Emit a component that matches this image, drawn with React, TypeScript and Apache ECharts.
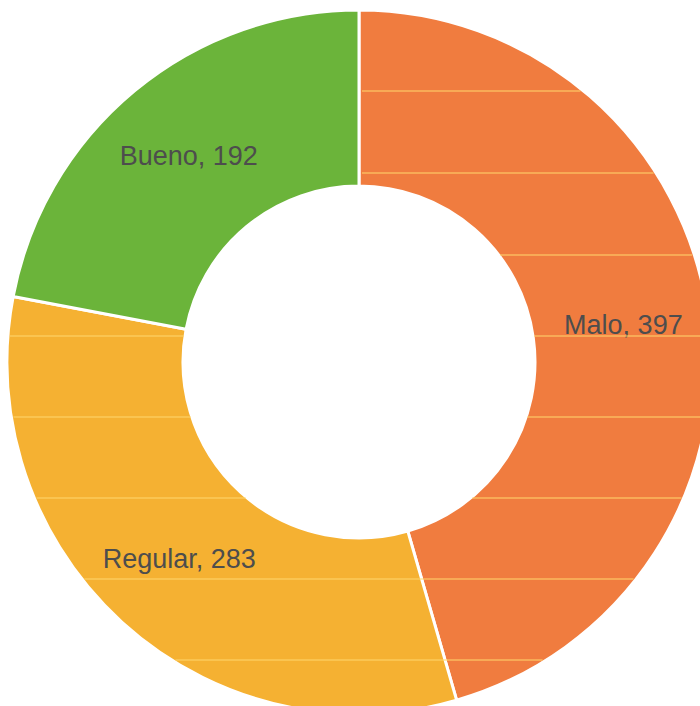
import React, { useEffect, useRef } from "react";
import * as echarts from "echarts";

const categories = ["Malo", "Regular", "Bueno"];
const values = [397, 283, 192];
const colors = ["#F07C3F", "#F5B132", "#6BB43A"];
const scanLinesY = [91, 173, 255, 336, 417, 498, 579, 660];

const CX = 359;
const CY = 362;
const R_IN = 176;
const R_OUT = 352;

export default function App() {
  const ref = useRef<HTMLDivElement>(null);
  useEffect(() => {
    if (!ref.current) return;
    const chart = echarts.init(ref.current, null, { renderer: "svg" });

    const total = values.reduce((a, b) => a + b, 0);
    const greenStart = ((values[0] + values[1]) / total) * 2 * Math.PI;

    const graphics: any[] = [];
    function mk(y: number, x1: number, x2: number) {
      return {
        type: "line",
        z: 100,
        silent: true,
        shape: { x1, y1: y, x2, y2: y },
        style: { stroke: "rgba(255,215,110,0.5)", lineWidth: 2 },
      };
    }
    const rOut = R_OUT - 2;
    const rIn = R_IN + 1;
    scanLinesY.forEach((y) => {
      const dy = y - CY;
      if (Math.abs(dy) >= rOut) return;
      const ho = Math.sqrt(rOut * rOut - dy * dy);
      let segs: number[][] = [];
      if (Math.abs(dy) < rIn) {
        const hi = Math.sqrt(rIn * rIn - dy * dy);
        segs = [
          [CX - ho, CX - hi],
          [CX + hi, CX + ho],
        ];
      } else {
        segs = [[CX - ho, CX + ho]];
      }
      segs.forEach(([x1, x2]) => {
        if (dy < 0 && x1 < CX) {
          const up = -dy;
          const limit = CX + up * Math.tan(greenStart);
          const b = Math.min(x2, limit - 2);
          if (b > x1 + 1) graphics.push(mk(y, x1, b));
          if (x2 > CX) graphics.push(mk(y, CX + 3, x2));
          return;
        }
        if (x2 > x1 + 1) graphics.push(mk(y, x1, x2));
      });
    });

    chart.setOption({
      animation: false,
      backgroundColor: "#ffffff",
      color: colors,
      series: [
        {
          type: "pie",
          center: [CX, CY],
          radius: [R_IN, R_OUT],
          startAngle: 90,
          clockwise: true,
          avoidLabelOverlap: false,
          itemStyle: { borderColor: "#ffffff", borderWidth: 3 },
          label: {
            show: true,
            position: "inside",
            formatter: "{b}, {c}",
            color: "#4d4d4d",
            fontSize: 27,
            fontFamily: "Liberation Sans, Arial, sans-serif",
          },
          labelLine: { show: false },
          data: categories.map((c, i) => ({ name: c, value: values[i] })),
        },
      ],
      graphic: graphics,
    });
    return () => chart.dispose();
  }, []);
  return (
    <div
      ref={ref}
      style={{ position: "fixed", left: 0, top: 0, width: 700, height: 706 }}
    />
  );
}
